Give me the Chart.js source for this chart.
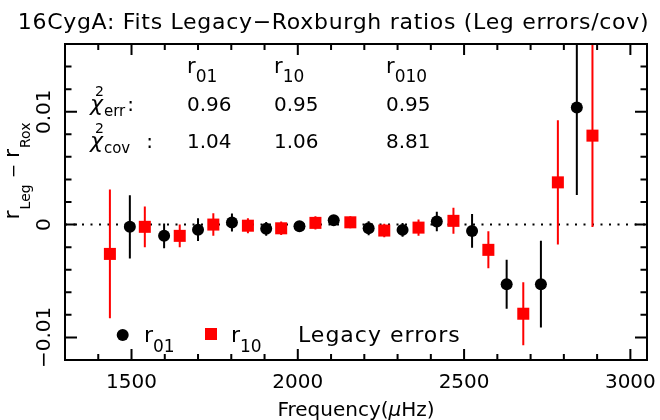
<!DOCTYPE html>
<html>
<head>
<meta charset="utf-8">
<script src="https://cdn.jsdelivr.net/npm/chart.js@4.4.0/dist/chart.umd.min.js"></script>
<style>
  html, body { margin: 0; padding: 0; background: #fff; }
  canvas { display: block; }
</style>
</head>
<body>
<canvas id="graficoRazoes" width="660" height="420"></canvas>
<script>
// frequencias (muHz) e diferencas r_Leg - r_Rox
const freqR01 = [1495, 1598, 1700, 1802, 1905, 2005, 2108, 2213, 2315, 2418, 2524, 2628, 2731, 2839];
const valR01 = [-0.0002, -0.0010, -0.00045, 0.00018, -0.00038, -0.00015, 0.00038, -0.00033, -0.00047, 0.00027, -0.00056, -0.00528, -0.00528, 0.01038];
const errR01 = [0.0028, 0.0011, 0.001, 0.0008, 0.0006, 0.00045, 0.0004, 0.00062, 0.0006, 0.00087, 0.0015, 0.00217, 0.00385, 0.00775];

const freqR10 = [1435, 1540, 1645, 1746, 1850, 1950, 2053, 2158, 2260, 2363, 2468, 2573, 2678, 2782, 2886];
const valR10 = [-0.0026, -0.0002, -0.001, 0.0, -0.0001, -0.00033, 0.00015, 0.0002, -0.00053, -0.00027, 0.00033, -0.00224, -0.0079, 0.00374, 0.00788];
const errR10 = [0.0057, 0.0018, 0.001, 0.001, 0.00066, 0.0006, 0.00058, 0.00053, 0.0006, 0.00073, 0.00115, 0.00164, 0.0028, 0.0055, 0.0081];

const limitesX = [1300, 3050];
const limitesY = [-0.012, 0.016];
const rotulosX = [1500, 2000, 2500, 3000];
const rotulosY = [-0.01, 0, 0.01];

const colunasChi = ['01', '10', '010'];
const chiErr = ['0.96', '0.95', '0.95'];
const chiCov = ['1.04', '1.06', '8.81'];

const titulo = '16CygA: Fits Legacy\u2212Roxburgh ratios (Leg errors/cov)';
const FONTE = '"DejaVu Sans"';

function pontos(freqs, vals) {
    return freqs.map((f, i) => ({ x: f, y: vals[i] }));
}

function barrasDeErro(freqs, vals, errs) {
    const saida = [];
    freqs.forEach((f, i) => {
        saida.push({ x: f, y: vals[i] - errs[i] }, { x: f, y: vals[i] + errs[i] }, { x: f, y: null });
    });
    return saida;
}

function textoComposto(ctx, x, y, partes, centrado) {
    const fonte = p => (p.it ? 'italic ' : '') + p.tam + 'px ' + FONTE;
    let total = 0;
    partes.forEach(p => {
        ctx.font = fonte(p);
        total += (p.dx || 0) + ctx.measureText(p.s).width;
    });
    let cx = centrado ? x - total / 2 : x;
    partes.forEach(p => {
        ctx.font = fonte(p);
        cx += p.dx || 0;
        ctx.fillText(p.s, cx, y + (p.dy || 0));
        cx += ctx.measureText(p.s).width;
    });
}

const molduraPlugin = {
    id: 'moldura',
    afterDatasetsDraw(chart) {
        const { ctx, chartArea: a, scales: { x, y } } = chart;
        ctx.save();
        ctx.strokeStyle = '#000';
        ctx.lineWidth = 2;
        ctx.strokeRect(a.left, a.top, a.right - a.left, a.bottom - a.top);
        ctx.beginPath();
        x.ticks.forEach(t => {
            const v = Math.round(t.value);
            if (v % 100 !== 0) return;
            const px = x.getPixelForValue(v);
            if (px <= a.left + 1 || px >= a.right - 1) return;
            const comp = v % 500 === 0 ? 11 : 6;
            ctx.moveTo(px, a.bottom); ctx.lineTo(px, a.bottom - comp);
            ctx.moveTo(px, a.top); ctx.lineTo(px, a.top + comp);
        });
        y.ticks.forEach(t => {
            const n = Math.round(t.value / 0.002);
            const py = y.getPixelForValue(t.value);
            if (py <= a.top + 1 || py >= a.bottom - 1) return;
            const comp = n % 5 === 0 ? 12 : 6.5;
            ctx.moveTo(a.left, py); ctx.lineTo(a.left + comp, py);
            ctx.moveTo(a.right, py); ctx.lineTo(a.right - comp, py);
        });
        ctx.stroke();
        ctx.restore();
    },
    afterDraw(chart) {
        const { ctx, chartArea: a, scales: { y } } = chart;
        ctx.save();
        ctx.fillStyle = '#000';
        ctx.textBaseline = 'alphabetic';

        // titulo
        ctx.letterSpacing = '0.7px';
        ctx.font = '22px ' + FONTE;
        ctx.textAlign = 'center';
        ctx.fillText(titulo, 333.5, 29);
        ctx.letterSpacing = '0px';

        // rotulos do eixo y (verticais)
        ctx.font = '20px ' + FONTE;
        rotulosY.forEach(v => {
            const py = y.getPixelForValue(v);
            ctx.save();
            ctx.translate(50, py);
            ctx.rotate(-Math.PI / 2);
            ctx.fillText(String(v).replace('-', '\u2212'), 0, 0);
            ctx.restore();
        });

        ctx.textAlign = 'left';
        // titulo do eixo y
        ctx.save();
        ctx.translate(19, 171);
        ctx.rotate(-Math.PI / 2);
        textoComposto(ctx, 0, 0, [
            { s: 'r', tam: 22 },
            { s: 'Leg', tam: 14, dy: 11, dx: 1 },
            { s: '\u2212', tam: 17, dx: 6 },
            { s: 'r', tam: 22, dx: 6 },
            { s: 'Rox', tam: 14, dy: 11, dx: 1 }
        ], true);
        ctx.restore();

        // titulo do eixo x
        textoComposto(ctx, (a.left + a.right) / 2, 416, [
            { s: 'Frequency(', tam: 20 },
            { s: '\u03bc', tam: 20, it: true },
            { s: 'Hz)', tam: 20 }
        ], true);

        // tabela de chi^2
        const colX = [187, 274, 386];
        colunasChi.forEach((c, i) => {
            textoComposto(ctx, colX[i], 73, [
                { s: 'r', tam: 21 },
                { s: c, tam: 17, dy: 9 }
            ]);
            ctx.font = '20px ' + FONTE;
            ctx.fillText(chiErr[i], colX[i], 111);
            ctx.fillText(chiCov[i], colX[i], 148);
        });
        textoComposto(ctx, 90, 111, [
            { s: '\u03c7', tam: 22, it: true },
            { s: '2', tam: 14, dy: -15, dx: -8 },
            { s: 'err', tam: 15, dy: 5 },
            { s: ':', tam: 20, dx: 2 }
        ]);
        textoComposto(ctx, 90, 148, [
            { s: '\u03c7', tam: 22, it: true },
            { s: '2', tam: 14, dy: -15, dx: -8 },
            { s: 'cov', tam: 15, dy: 5 },
            { s: ':', tam: 20, dx: 16 }
        ]);

        // legenda
        ctx.beginPath();
        ctx.arc(122.7, 335, 6, 0, Math.PI * 2);
        ctx.fill();
        ctx.fillStyle = '#ff0000';
        ctx.fillRect(205, 328, 12, 12);
        ctx.fillStyle = '#000';
        textoComposto(ctx, 144, 342, [{ s: 'r', tam: 22 }, { s: '01', tam: 17, dy: 10 }]);
        textoComposto(ctx, 231, 342, [{ s: 'r', tam: 22 }, { s: '10', tam: 17, dy: 10 }]);
        ctx.letterSpacing = '1px';
        ctx.font = '22px ' + FONTE;
        ctx.fillText('Legacy errors', 298, 342);
        ctx.letterSpacing = '0px';

        ctx.restore();
    }
};

const graficoRazoes = new Chart(document.getElementById('graficoRazoes'), {
    type: 'scatter',
    data: {
        datasets: [
            {
                label: 'r01',
                data: pontos(freqR01, valR01),
                pointStyle: 'circle',
                pointRadius: 6,
                backgroundColor: '#000',
                borderWidth: 0,
                order: 0,
            },
            {
                label: 'r10',
                data: pontos(freqR10, valR10),
                pointStyle: 'rect',
                pointRadius: 8.5,
                backgroundColor: '#ff0000',
                borderWidth: 0,
                order: 0,
            },
            {
                label: 'erro r01',
                data: barrasDeErro(freqR01, valR01, errR01),
                showLine: true,
                spanGaps: false,
                pointRadius: 0,
                borderColor: '#000',
                borderWidth: 2,
                order: 1,
            },
            {
                label: 'erro r10',
                data: barrasDeErro(freqR10, valR10, errR10),
                showLine: true,
                spanGaps: false,
                pointRadius: 0,
                borderColor: '#ff0000',
                borderWidth: 2,
                order: 1,
            },
            {
                label: 'zero',
                data: [{ x: limitesX[0], y: 0 }, { x: limitesX[1], y: 0 }],
                showLine: true,
                pointRadius: 0,
                borderColor: '#000',
                borderWidth: 2,
                borderDash: [2, 6.5],
                order: 2,
            },
        ],
    },
    options: {
        responsive: false,
        animation: false,
        devicePixelRatio: 1,
        layout: { padding: { left: 0, right: 13, top: 44, bottom: 0 } },
        plugins: {
            legend: { display: false },
            tooltip: { enabled: false },
            title: { display: false },
        },
        scales: {
            x: {
                type: 'linear',
                min: limitesX[0],
                max: limitesX[1],
                grid: { display: false, drawTicks: false },
                border: { display: false },
                ticks: {
                    stepSize: 100,
                    includeBounds: false,
                    autoSkip: false,
                    maxRotation: 0,
                    padding: 11,
                    color: '#000',
                    font: { family: 'DejaVu Sans', size: 20 },
                    callback: v => (rotulosX.includes(Math.round(v)) ? String(Math.round(v)) : ''),
                },
                afterFit: s => {
                    s.height = 60;
                    s.paddingLeft = 0;
                    s.paddingRight = 0;
                },
            },
            y: {
                type: 'linear',
                min: limitesY[0],
                max: limitesY[1],
                grid: { display: false, drawTicks: false },
                border: { display: false },
                ticks: { stepSize: 0.002, display: false },
                afterFit: s => { s.width = 65; },
            },
        },
    },
    plugins: [molduraPlugin],
});
</script>
</body>
</html>
